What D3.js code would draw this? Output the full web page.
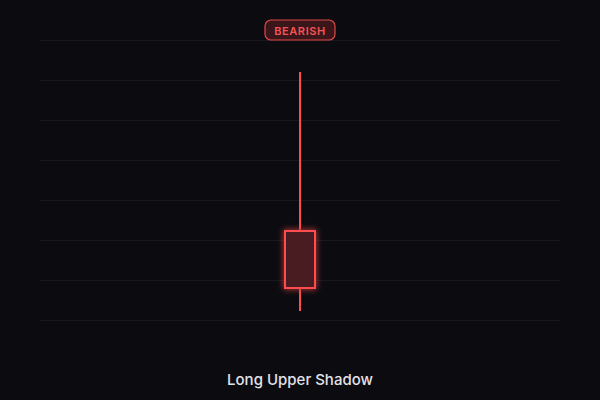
<!DOCTYPE html>
<html><head><meta charset="utf-8">
<script src="https://cdn.jsdelivr.net/npm/d3@7"></script>
<style>html,body{margin:0;padding:0;background:#0b0b10;}svg{display:block;}</style>
</head><body>
<svg id="c" width="600" height="400"></svg>
<script>
const categories = ["Candle"];
const openVals = [102.225];
const highVals = [106.2];
const lowVals = [100.225];
const closeVals = [100.8];
const gridTicks = [100, 101, 102, 103, 104, 105, 106, 107];
const title = "Long Upper Shadow";
const badge = "BEARISH";

const W = 600, H = 400;
const svg = d3.select("#c");
svg.append("rect").attr("width", W).attr("height", H).attr("fill", "#0b0b10");

const x = d3.scaleBand().domain(categories).range([40, 560]).padding(0.47);
const y = d3.scaleLinear().domain([100, 107]).range([320, 40]);

const defs = svg.append("defs");
const f = defs.append("filter").attr("id", "glow").attr("x", "-50%").attr("y", "-50%").attr("width", "200%").attr("height", "200%");
f.append("feGaussianBlur").attr("stdDeviation", 3).attr("result", "b");
const m = f.append("feMerge");
m.append("feMergeNode").attr("in", "b");
m.append("feMergeNode").attr("in", "SourceGraphic");

svg.append("g").selectAll("line").data(gridTicks).join("line")
  .attr("x1", 40).attr("x2", 560)
  .attr("y1", d => y(d) + 0.5).attr("y2", d => y(d) + 0.5)
  .attr("stroke", "#17171d").attr("stroke-width", 1);

const col = "#ff4d4f";
const g = svg.append("g");
categories.forEach((c, i) => {
  const cx = x(c) + x.bandwidth() / 2;
  const bw = 30;
  g.append("line").attr("x1", cx).attr("x2", cx)
    .attr("y1", y(highVals[i])).attr("y2", y(lowVals[i]))
    .attr("stroke", col).attr("stroke-width", 2);
  const top = y(Math.max(openVals[i], closeVals[i]));
  const bot = y(Math.min(openVals[i], closeVals[i]));
  g.append("rect").attr("x", cx - bw / 2).attr("y", top)
    .attr("width", bw).attr("height", bot - top)
    .attr("fill", "#4a1c22").attr("stroke", col).attr("stroke-width", 2)
    .attr("filter", "url(#glow)");
});

const bg = svg.append("g");
bg.append("rect").attr("x", 265).attr("y", 20).attr("width", 70).attr("height", 20).attr("rx", 6)
  .attr("fill", "#3a1519").attr("stroke", "#e04848").attr("stroke-width", 1.2);
bg.append("text").attr("x", 300).attr("y", 34.5).attr("text-anchor", "middle")
  .attr("font-family", "Inter, sans-serif").attr("font-size", 11).attr("font-weight", 600)
  .attr("letter-spacing", 0.6).attr("fill", "#f25555").text(badge);

svg.append("text").attr("x", 300).attr("y", 385).attr("text-anchor", "middle")
  .attr("font-family", "Inter, sans-serif").attr("font-size", 15).attr("font-weight", 500)
  .attr("fill", "#e2e2e8").text(title);
</script>
</body></html>
